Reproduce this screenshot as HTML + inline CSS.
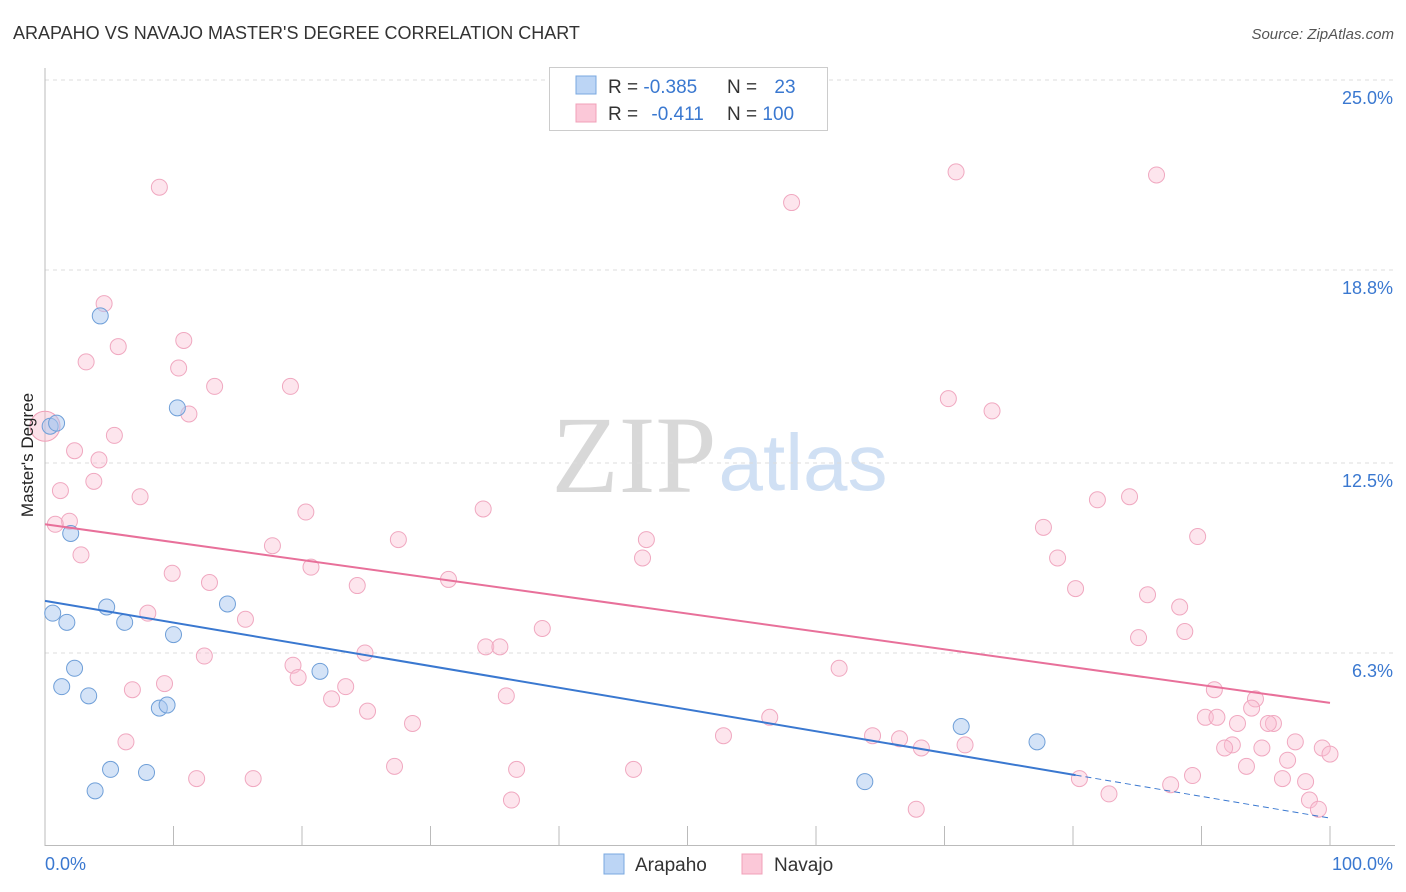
<!DOCTYPE html>
<html><head><meta charset="utf-8"><style>
body{margin:0;background:#fff;font-family:"Liberation Sans",sans-serif;}
svg{display:block}
</style></head><body>
<svg width="1406" height="892" xmlns="http://www.w3.org/2000/svg">
<text x="13" y="39" font-size="18" fill="#333">ARAPAHO VS NAVAJO MASTER'S DEGREE CORRELATION CHART</text>
<text x="1394" y="39" font-size="15" fill="#555" font-style="italic" text-anchor="end">Source: ZipAtlas.com</text>
<g>
<text x="634" y="492" font-size="110" fill="#d8d8d8" font-family="Liberation Serif,serif" text-anchor="middle">ZIP</text>
<text x="803" y="490" font-size="80" fill="#d0e0f4" text-anchor="middle">atlas</text>
</g>
<g id="grid"></g>
<g id="axes"></g>
<g id="marks"></g>
<text x="33" y="455" font-size="17" fill="#222" text-anchor="middle" transform="rotate(-90 33 455)">Master's Degree</text>
<g>
<rect x="549.5" y="67.5" width="278" height="63" fill="#fff" stroke="#ccc"/>
<rect x="576" y="76" width="20" height="18" fill="#bcd5f5" stroke="#7aa8e0"/>
<rect x="576" y="104" width="20" height="18" fill="#fbc8d8" stroke="#f0a0b8"/>
<text x="608" y="93" font-size="19" fill="#333">R = <tspan fill="#3a78d0">-0.385</tspan></text>
<text x="727" y="93" font-size="19" fill="#333">N = <tspan fill="#3a78d0" dx="12">23</tspan></text>
<text x="608" y="120" font-size="19" fill="#333">R = <tspan fill="#3a78d0" dx="8">-0.411</tspan></text>
<text x="727" y="120" font-size="19" fill="#333">N = <tspan fill="#3a78d0">100</tspan></text>
</g>
<g>
<rect x="604" y="854" width="20" height="20" fill="#bcd5f5" stroke="#7aa8e0"/>
<text x="635" y="871" font-size="19" fill="#333">Arapaho</text>
<rect x="742" y="854" width="20" height="20" fill="#fbc8d8" stroke="#f0a0b8"/>
<text x="774" y="871" font-size="19" fill="#333">Navajo</text>
</g>
</svg>
<script>
const yTicks=[25.0,18.8,12.5,6.3];
const yTickLabels=["25.0%","18.8%","12.5%","6.3%"];
const xTickCount=10;
const arapahoX=[0.4,0.9,4.3,10.3,2.0,0.6,1.7,4.8,6.2,14.2,10.0,2.3,1.3,3.4,21.4,8.9,9.5,5.1,7.9,3.9,63.8,71.3,77.2];
const arapahoY=[13.7,13.8,17.3,14.3,10.2,7.6,7.3,7.8,7.3,7.9,6.9,5.8,5.2,4.9,5.7,4.5,4.6,2.5,2.4,1.8,2.1,3.9,3.4];
const navajoX=[8.9,4.6,10.8,5.7,3.2,10.4,13.2,19.1,11.2,5.4,2.3,4.2,3.8,1.2,7.4,1.9,0.8,20.3,34.1,2.8,17.7,20.7,9.9,12.8,24.3,31.4,27.5,46.8,46.5,8.0,15.6,38.7,34.3,35.4,24.9,12.4,19.3,19.7,23.4,9.3,6.8,22.3,35.9,25.1,28.6,6.3,27.2,11.8,16.2,36.7,45.8,36.3,58.1,70.9,86.5,70.3,73.7,84.4,81.9,77.7,78.8,80.2,89.7,85.8,88.3,85.1,88.7,61.8,56.4,52.8,64.4,66.5,68.2,71.6,91.0,94.2,93.9,90.3,91.2,92.8,95.6,95.2,92.4,91.8,94.7,97.3,99.4,100.0,96.7,93.5,89.3,87.6,80.5,82.8,96.3,98.1,98.4,99.1,67.8];
const navajoY=[21.5,17.7,16.5,16.3,15.8,15.6,15.0,15.0,14.1,13.4,12.9,12.6,11.9,11.6,11.4,10.6,10.5,10.9,11.0,9.5,9.8,9.1,8.9,8.6,8.5,8.7,10.0,10.0,9.4,7.6,7.4,7.1,6.5,6.5,6.3,6.2,5.9,5.5,5.2,5.3,5.1,4.8,4.9,4.4,4.0,3.4,2.6,2.2,2.2,2.5,2.5,1.5,21.0,22.0,21.9,14.6,14.2,11.4,11.3,10.4,9.4,8.4,10.1,8.2,7.8,6.8,7.0,5.8,4.2,3.6,3.6,3.5,3.2,3.3,5.1,4.8,4.5,4.2,4.2,4.0,4.0,4.0,3.3,3.2,3.2,3.4,3.2,3.0,2.8,2.6,2.3,2.0,2.2,1.7,2.2,2.1,1.5,1.2,1.2];
const arapahoTrend=[8.0,0.91];
const navajoTrend=[10.5,4.67];
const NS="http://www.w3.org/2000/svg";
const X0=45,X1=1330,YB=846,PXY=30.64;
function xs(v){return X0+(X1-X0)*v/100;}
function ys(v){return YB-v*PXY;}
function mk(tag,attrs,parent){const e=document.createElementNS(NS,tag);for(const k in attrs)e.setAttribute(k,attrs[k]);parent.appendChild(e);return e;}
const grid=document.getElementById('grid'),axes=document.getElementById('axes'),marks=document.getElementById('marks');
yTicks.forEach((t,i)=>{
 const y=ys(t);
 const l=mk('line',{x1:X0,x2:1395,y1:y,y2:y,stroke:'#ddd','stroke-dasharray':'4 4'},grid);
 
 
 const tx=mk('text',{x:1393,y:y+24,'font-size':18,fill:'#3a78d0','text-anchor':'end'},axes);
 tx.textContent=yTickLabels[i];
 
 
});
const la=mk('line',{x1:X0,x2:X0,y1:68,y2:846,stroke:'#bbb'},axes);


const lb=mk('line',{x1:X0,x2:1395,y1:845.5,y2:845.5,stroke:'#bbb'},axes);


for(let i=0;i<=xTickCount;i++){
 const x=xs(i*100/xTickCount);
 const t=mk('line',{x1:x,x2:x,y1:826,y2:846,stroke:'#bbb'},axes);
 
 
}
const xl0=mk('text',{x:45,y:870,'font-size':18,fill:'#3a78d0'},axes);xl0.textContent='0.0%';


const xl1=mk('text',{x:1393,y:870,'font-size':18,fill:'#3a78d0','text-anchor':'end'},axes);xl1.textContent='100.0%';


const big=mk('circle',{cx:xs(0),cy:ys(13.7),r:15,fill:'rgba(248,180,200,0.4)',stroke:'#f0a0b8'},marks);


navajoX.forEach((v,i)=>{
 const c=mk('circle',{cx:xs(v),cy:ys(navajoY[i]),r:8,fill:'rgba(250,190,210,0.4)',stroke:'#f0a8c0','stroke-width':1},marks);
 
 
});
arapahoX.forEach((v,i)=>{
 const c=mk('circle',{cx:xs(v),cy:ys(arapahoY[i]),r:8,fill:'rgba(170,200,240,0.5)',stroke:'#6f9fd8','stroke-width':1},marks);
 
 
});
function ty(tr,x){return tr[0]+(tr[1]-tr[0])*x/100;}
const pl=mk('line',{x1:xs(0),y1:ys(ty(navajoTrend,0)),x2:xs(100),y2:ys(ty(navajoTrend,100)),stroke:'#e8709a','stroke-width':2},marks);


const bl=mk('line',{x1:xs(0),y1:ys(ty(arapahoTrend,0)),x2:xs(80.2),y2:ys(ty(arapahoTrend,80.2)),stroke:'#3a78d0','stroke-width':2},marks);


const bd=mk('line',{x1:xs(80.2),y1:ys(ty(arapahoTrend,80.2)),x2:xs(100),y2:ys(ty(arapahoTrend,100)),stroke:'#3a78d0','stroke-width':1,'stroke-dasharray':'6 4'},marks);


</script>
</body></html>
